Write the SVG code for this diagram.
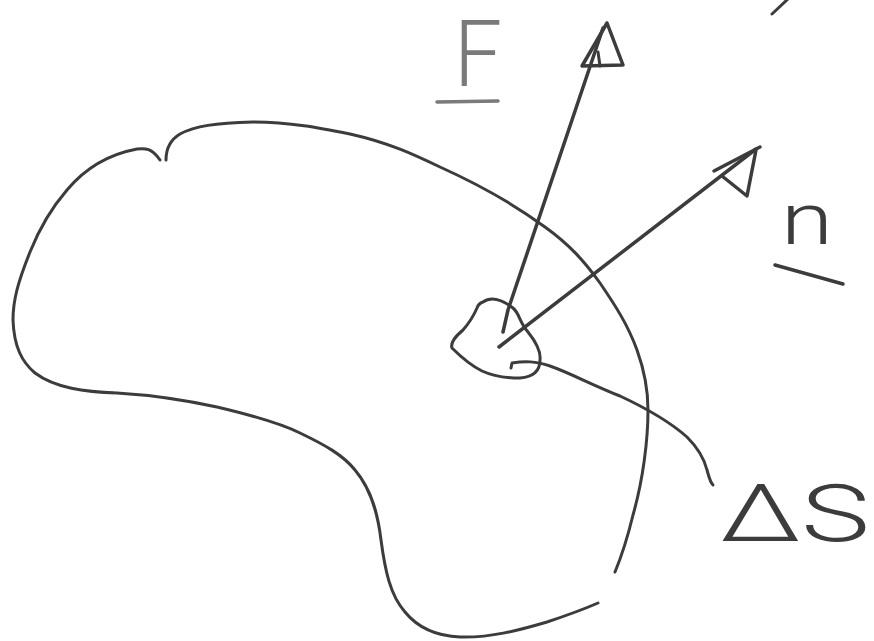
<svg xmlns="http://www.w3.org/2000/svg" width="874" height="641" viewBox="0 0 874 641">
<style>
.ink{fill:none;stroke:#3c3c3c;stroke-width:3;stroke-linecap:round;stroke-linejoin:round}
.thick{stroke-width:3.5}
.lbl{font-family:Roboto,"Liberation Sans",Arial,sans-serif;font-weight:300;fill:#3c3c3c}
.grey{fill:#7a7a7a}
.greyln{fill:none;stroke:#7a7a7a;stroke-width:3.5;stroke-linecap:round}
</style>
<rect width="874" height="641" fill="#ffffff"/>
<g id="body">
<path class="ink" d="M160,160 C152,148 145,148 137,149 C105,155 82,172 67,190 C48,212 38,232 30,252 C18,282 13,300 13,320 C14,347 22,362 35,373 C55,388 85,392 117,393 C150,395 185,400 217,407 C255,416 280,423 300,433 C325,445 343,455 355,470 C372,490 378,515 381,540 C385,570 390,595 405,612 C418,628 435,636 460,637 C490,638 520,630 547,622 C565,616 582,610 598,603"/>
<path class="ink" d="M166,160 C166,148 170,140 180,134 C195,126 215,123 253,122 C290,122 320,128 350,134 C390,143 415,155 440,167 C480,185 515,205 545,227 C570,245 585,262 600,283 C615,305 628,325 637,350 C645,372 648,395 648,410 C648,440 643,480 633,515 C627,540 622,555 615,572"/>
</g>
<g id="patch">
<path class="ink" d="M483,302 C490,297 500,298 513,308 C520,314 519,322 528,332 C536,342 541,352 540,360 C540,372 532,377 520,378 C508,378 495,377 482,371 C470,365 460,356 452,348 C450,342 456,336 463,330 C470,322 474,315 477,308 C478,305 480,303 483,302 Z"/>
</g>
<g id="connectors">
<g id="arrow-F">
<path class="ink thick" d="M503,332 L508,310 L603,28"/>
<path class="ink thick" d="M607,23 L582,66 L623,65 Z"/>
<path class="ink" d="M598,52 L600,66"/>
</g>
<g id="arrow-n">
<path class="ink thick" d="M499,347 L756,149"/>
<path class="ink thick" d="M714,171 L760,147 M756,150 L747,196 L722,176"/>
</g>
<g id="leader-dS">
<path class="ink" d="M511,368 L512,363 C525,361 535,361 550,366 C570,373 590,384 620,396 C650,410 670,422 687,437 C700,450 705,462 707,470 C709,477 710,482 713,485"/>
</g>
<path class="ink" d="M772,14 L788,-1"/>
</g>
<g id="label-F">
<text class="lbl grey" x="454" y="86" font-size="92" textLength="48" lengthAdjust="spacingAndGlyphs">F</text>
<line class="greyln" x1="437" y1="102" x2="498" y2="101"/>
</g>
<g id="label-n">
<text class="lbl" x="781" y="244" font-size="72" textLength="52" lengthAdjust="spacingAndGlyphs">n</text>
<line class="ink thick" x1="775" y1="265" x2="843" y2="284"/>
</g>
<g id="label-dS">
<text class="lbl" x="720" y="541" font-size="80" textLength="150" lengthAdjust="spacingAndGlyphs">ΔS</text>
</g>
</svg>
